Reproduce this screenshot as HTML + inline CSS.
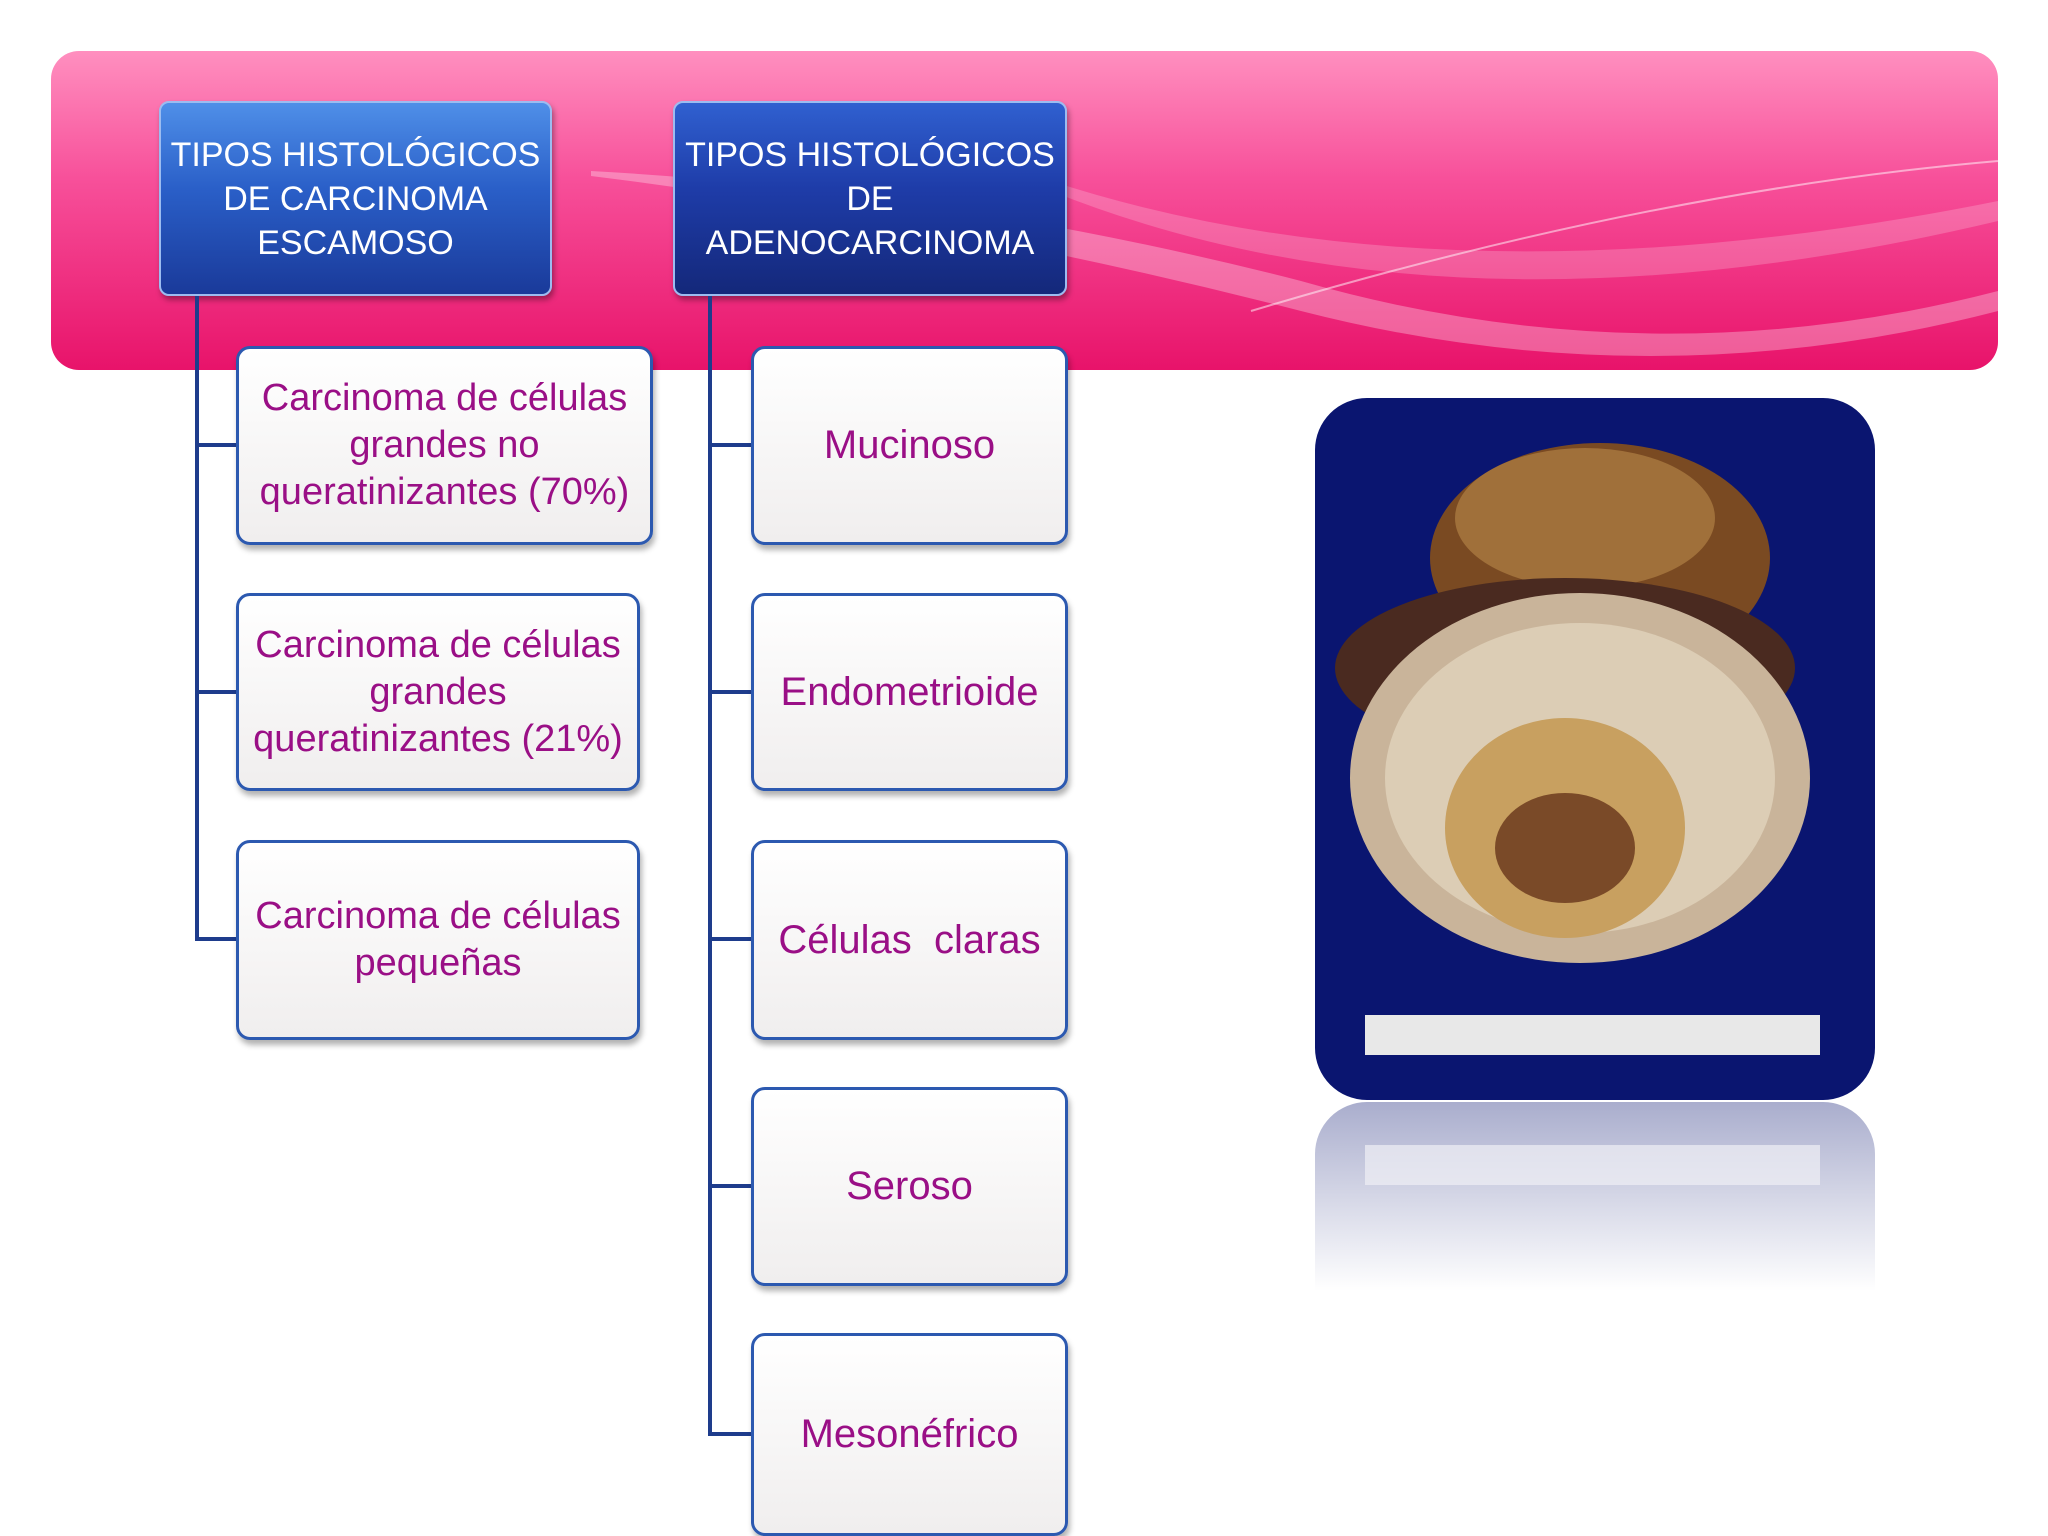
<!DOCTYPE html>
<html><head><meta charset="utf-8"><style>
html,body{margin:0;padding:0;}
body{width:2048px;height:1536px;position:relative;overflow:hidden;background:#fff;font-family:"Liberation Sans",sans-serif;}
.banner{position:absolute;left:51px;top:51px;width:1947px;height:319px;border-radius:28px;
background:linear-gradient(180deg,#ff8fbf 0%,#f7509a 40%,#e8136a 100%);overflow:hidden;}
.hdr{position:absolute;top:101px;width:393px;height:195px;border-radius:10px;
background:linear-gradient(180deg,#4f8fe8 0%,#2a5fc8 45%,#1a3a9a 100%);
box-shadow:2px 4px 6px rgba(0,0,0,.35);color:#fff;font-size:34px;line-height:44px;text-align:center;
display:flex;align-items:center;justify-content:center;border:2px solid #9cbcf0;box-sizing:border-box;}
.hdr2{background:linear-gradient(180deg,#3060d0 0%,#1e3ca8 45%,#14287a 100%);}
.box{position:absolute;border:3px solid #2c59b0;border-radius:14px;box-sizing:border-box;
background:linear-gradient(180deg,#ffffff 0%,#f0eeee 100%);box-shadow:2px 5px 6px rgba(0,0,0,.3);
display:flex;align-items:center;justify-content:center;text-align:center;color:#9a0f86;}
.l{font-size:38px;line-height:47px;}
.r{font-size:40px;}
.ln{position:absolute;background:#1e3c8c;}
</style></head><body>
<div class="banner">
<svg width="1947" height="319" style="position:absolute;left:0;top:0">
<path d="M540 120 Q900 140 1250 230 Q1600 330 1947 240 L1947 260 Q1600 350 1250 260 Q900 170 540 125Z" fill="rgba(255,255,255,.3)"/>
<path d="M1000 130 Q1400 260 1947 150 L1947 170 Q1400 300 1000 140Z" fill="rgba(255,255,255,.2)"/>
<path d="M1200 260 Q1600 140 1947 110" stroke="rgba(255,255,255,.5)" fill="none" stroke-width="2"/>
</svg>
</div>
<div class="hdr" style="left:159px">TIPOS HISTOLÓGICOS<br>DE CARCINOMA<br>ESCAMOSO</div>
<div class="hdr hdr2" style="left:673px;width:394px">TIPOS HISTOLÓGICOS<br>DE<br>ADENOCARCINOMA</div>

<div class="ln" style="left:195px;top:296px;width:4px;height:645px"></div>
<div class="ln" style="left:195px;top:443px;width:41px;height:4px"></div>
<div class="ln" style="left:195px;top:690px;width:41px;height:4px"></div>
<div class="ln" style="left:195px;top:937px;width:41px;height:4px"></div>

<div class="ln" style="left:708px;top:296px;width:4px;height:1140px"></div>
<div class="ln" style="left:708px;top:443px;width:43px;height:4px"></div>
<div class="ln" style="left:708px;top:690px;width:43px;height:4px"></div>
<div class="ln" style="left:708px;top:937px;width:43px;height:4px"></div>
<div class="ln" style="left:708px;top:1184px;width:43px;height:4px"></div>
<div class="ln" style="left:708px;top:1432px;width:43px;height:4px"></div>

<div class="box l" style="left:236px;top:346px;width:417px;height:199px">Carcinoma de células<br>grandes no<br>queratinizantes (70%)</div>
<div class="box l" style="left:236px;top:593px;width:404px;height:198px">Carcinoma de células<br>grandes<br>queratinizantes (21%)</div>
<div class="box l" style="left:236px;top:840px;width:404px;height:200px">Carcinoma de células<br>pequeñas</div>

<div class="box r" style="left:751px;top:346px;width:317px;height:199px">Mucinoso</div>
<div class="box r" style="left:751px;top:593px;width:317px;height:198px">Endometrioide</div>
<div class="box r" style="left:751px;top:840px;width:317px;height:200px">Células&nbsp; claras</div>
<div class="box r" style="left:751px;top:1087px;width:317px;height:199px">Seroso</div>
<div class="box r" style="left:751px;top:1333px;width:317px;height:203px">Mesonéfrico</div>

<div style="position:absolute;left:1315px;top:398px;width:560px;height:702px;border-radius:52px;background:#0a1570;overflow:hidden">
<svg width="560" height="702">
<ellipse cx="285" cy="160" rx="170" ry="115" fill="#7a4a22"/>
<ellipse cx="270" cy="120" rx="130" ry="70" fill="#a0703a"/>
<ellipse cx="250" cy="270" rx="230" ry="90" fill="#4a2a20"/>
<ellipse cx="265" cy="380" rx="230" ry="185" fill="#c9b49a"/>
<ellipse cx="265" cy="380" rx="195" ry="155" fill="#dccdb5"/>
<ellipse cx="250" cy="430" rx="120" ry="110" fill="#c8a060"/>
<ellipse cx="250" cy="450" rx="70" ry="55" fill="#7a4a28"/>
<rect x="50" y="617" width="455" height="40" fill="#e8e8e8"/>
</svg>
</div>
<div style="position:absolute;left:1315px;top:1102px;width:560px;height:210px;border-radius:52px 52px 0 0;background:linear-gradient(180deg,rgba(10,21,112,.35),rgba(255,255,255,0) 90%)"></div>
<div style="position:absolute;left:1365px;top:1145px;width:455px;height:40px;background:rgba(240,240,245,.7)"></div>
</body></html>
